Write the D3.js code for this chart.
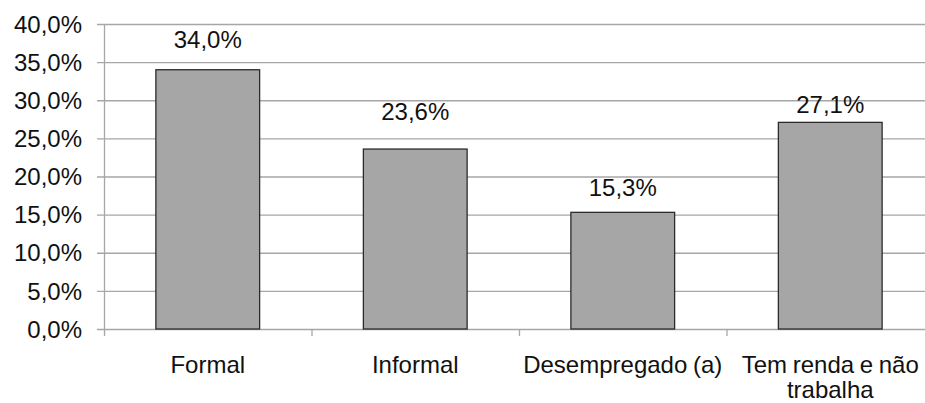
<!DOCTYPE html>
<html>
<head>
<meta charset="utf-8">
<script src="https://cdn.jsdelivr.net/npm/d3@7"></script>
<style>
  html, body { margin: 0; padding: 0; background: #fff; }
  svg { display: block; }
  text { font-family: "Liberation Sans", Arial, sans-serif; fill: #111; }
</style>
</head>
<body>
<svg id="chart" width="925" height="403"></svg>
<script>
// Categories (multi-line labels split by "\n")
const categories = ["Formal", "Informal", "Desempregado (a)", "Tem renda e não\ntrabalha"];
// Share of each group, in percent
const values = [34.0, 23.6, 15.3, 27.1];
// Y-axis ticks (percent)
const yTicks = [0, 5, 10, 15, 20, 25, 30, 35, 40];

const fmt = v => v.toFixed(1).replace(".", ",") + "%";

const svg = d3.select("#chart");
const W = 925;

const x = d3.scaleBand()
  .domain(categories)
  .range([104, 934])
  .paddingInner(0.5)
  .paddingOuter(0.25);

const y = d3.scaleLinear()
  .domain([0, 40])
  .range([329, 24]);

// Horizontal gridlines with small ticks to the left of the axis
svg.append("g")
  .selectAll("line")
  .data(yTicks)
  .join("line")
  .attr("x1", 97).attr("x2", W)
  .attr("y1", d => y(d) + 0.5).attr("y2", d => y(d) + 0.5)
  .attr("stroke", "#a6a6a6")
  .attr("stroke-width", 1.3);

// Y tick labels
svg.append("g")
  .selectAll("text")
  .data(yTicks)
  .join("text")
  .attr("x", 82)
  .attr("y", d => y(d))
  .attr("dy", "0.36em")
  .attr("text-anchor", "end")
  .attr("font-size", 24)
  .text(fmt);

// Vertical axis line
svg.append("line")
  .attr("x1", 104.5).attr("x2", 104.5)
  .attr("y1", y(40)).attr("y2", 336)
  .attr("stroke", "#a6a6a6")
  .attr("stroke-width", 1.3);

// Category separator ticks below the baseline
const step = x.step();
const bounds = categories.map((c, i) => 104 + i * step);
svg.append("g")
  .selectAll("line")
  .data(bounds.slice(1))
  .join("line")
  .attr("x1", d => d + 0.5).attr("x2", d => d + 0.5)
  .attr("y1", y(0)).attr("y2", 336)
  .attr("stroke", "#a6a6a6")
  .attr("stroke-width", 1.3);

// Bars
svg.append("g")
  .selectAll("rect")
  .data(values)
  .join("rect")
  .attr("x", (d, i) => x(categories[i]))
  .attr("y", d => y(d))
  .attr("width", x.bandwidth())
  .attr("height", d => y(0) - y(d))
  .attr("fill", "#a6a6a6")
  .attr("stroke", "#2b2b2b")
  .attr("stroke-width", 1.3);

// Value labels above bars (vertical clearance per label)
const labelLift = [22, 29, 16, 9];
svg.append("g")
  .selectAll("text")
  .data(values)
  .join("text")
  .attr("x", (d, i) => x(categories[i]) + x.bandwidth() / 2)
  .attr("y", (d, i) => y(d) - labelLift[i])
  .attr("text-anchor", "middle")
  .attr("font-size", 24)
  .text(fmt);

// Category labels
const catG = svg.append("g");
categories.forEach((c, i) => {
  const t = catG.append("text")
    .attr("x", x(c) + x.bandwidth() / 2)
    .attr("y", 373)
    .attr("text-anchor", "middle")
    .attr("font-size", 24)
    .attr("word-spacing", -1);
  c.split("\n").forEach((line, j) => {
    t.append("tspan")
      .attr("x", x(c) + x.bandwidth() / 2)
      .attr("dy", j === 0 ? 0 : 24.5)
      .text(line);
  });
});
</script>
</body>
</html>
